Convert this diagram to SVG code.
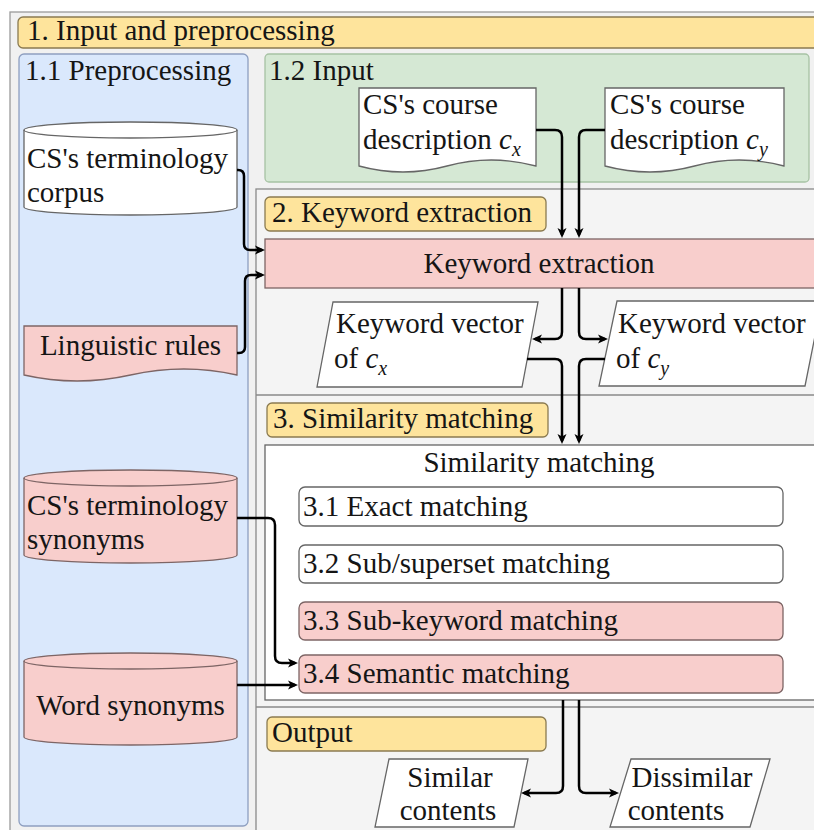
<svg xmlns="http://www.w3.org/2000/svg" width="814" height="830" viewBox="0 0 814 830" font-family="Liberation Serif" font-size="29">
<defs>
<marker id="ah" viewBox="0 0 10 10" refX="7" refY="5" markerWidth="11" markerHeight="10" markerUnits="userSpaceOnUse" orient="auto">
<path d="M0,0.5 L10,5 L0,9.5 L2.5,5 Z" fill="#000"/>
</marker>
</defs>
<rect x="0" y="0" width="814" height="830" fill="#ffffff"/>
<g id="frame">
<rect x="10" y="12" width="820" height="830" fill="#f1f1f1" stroke="#9a9a9a" stroke-width="1.3"/>
</g>
<g id="header">
<rect x="18" y="17" width="812" height="31" rx="5" fill="#fee49c" stroke="#8a7a50" stroke-width="1.3"/>
<text font-family="Liberation Serif" font-size="29" fill="#151515" x="27" y="40">1. Input and preprocessing</text>
</g>
<g id="preprocessing">
<rect x="19" y="54" width="229" height="772" rx="5" fill="#dae8fc" stroke="#8e9fc0" stroke-width="1.3"/>
<text font-family="Liberation Serif" font-size="29" fill="#151515" x="25" y="80">1.1 Preprocessing</text>
</g>
<g id="input">
<rect x="265" y="54" width="544" height="128" rx="4" fill="#d5e8d4" stroke="#a7c2a4" stroke-width="1.3"/>
<text font-family="Liberation Serif" font-size="29" fill="#151515" x="269" y="80">1.2 Input</text>
</g>
<g id="sections">
<rect x="256" y="189" width="574" height="660" fill="#f4f4f4" stroke="#8a8a8a" stroke-width="1.3"/>
<line x1="256" y1="395" x2="830" y2="395" stroke="#8a8a8a" stroke-width="1.3"/>
<line x1="256" y1="707" x2="830" y2="707" stroke="#8a8a8a" stroke-width="1.3"/>
</g>
<g id="doc-cx">
<path d="M359,88 H536 V166 Q491,154 447,166 Q403,178 359,166 Z" fill="#fff" stroke="#666" stroke-width="1.3"/>
<text font-family="Liberation Serif" font-size="29" fill="#151515" x="363" y="114">CS's course</text>
<text font-family="Liberation Serif" font-size="29" fill="#151515" x="363" y="149">description <tspan font-style="italic">c</tspan><tspan font-style="italic" font-size="20" dy="7">x</tspan></text>
</g>
<g id="doc-cy">
<path d="M605,88 H784 V166 Q739,154 694.5,166 Q650,178 605,166 Z" fill="#fff" stroke="#666" stroke-width="1.3"/>
<text font-family="Liberation Serif" font-size="29" fill="#151515" x="610" y="114">CS's course</text>
<text font-family="Liberation Serif" font-size="29" fill="#151515" x="610" y="149">description <tspan font-style="italic">c</tspan><tspan font-style="italic" font-size="20" dy="7">y</tspan></text>
</g>
<g id="corpus">
<path d="M24,130 A106.5,8 0 0 1 237,130 V207 A106.5,8 0 0 1 24,207 Z" fill="#fff" stroke="#666" stroke-width="1.3"/>
<path d="M24,130 A106.5,8 0 0 0 237,130" fill="none" stroke="#666" stroke-width="1.3"/>
<text font-family="Liberation Serif" font-size="29" fill="#151515" x="27" y="168">CS's terminology</text>
<text font-family="Liberation Serif" font-size="29" fill="#151515" x="27" y="202">corpus</text>
</g>
<g id="linguistic-rules">
<path d="M24,326 H237 V375 Q184,363 130.5,375 Q77,387 24,375 Z" fill="#f8cecc" stroke="#7d6565" stroke-width="1.3"/>
<text font-family="Liberation Serif" font-size="29" fill="#151515" text-anchor="middle" x="130.5" y="355">Linguistic rules</text>
</g>
<g id="term-synonyms">
<path d="M24,478 A106.5,8 0 0 1 237,478 V555 A106.5,8 0 0 1 24,555 Z" fill="#f8cecc" stroke="#7d6565" stroke-width="1.3"/>
<path d="M24,478 A106.5,8 0 0 0 237,478" fill="none" stroke="#7d6565" stroke-width="1.3"/>
<text font-family="Liberation Serif" font-size="29" fill="#151515" x="27" y="515">CS's terminology</text>
<text font-family="Liberation Serif" font-size="29" fill="#151515" x="27" y="549">synonyms</text>
</g>
<g id="word-synonyms">
<path d="M24,661 A106.5,8 0 0 1 237,661 V737 A106.5,8 0 0 1 24,737 Z" fill="#f8cecc" stroke="#7d6565" stroke-width="1.3"/>
<path d="M24,661 A106.5,8 0 0 0 237,661" fill="none" stroke="#7d6565" stroke-width="1.3"/>
<text font-family="Liberation Serif" font-size="29" fill="#151515" text-anchor="middle" x="130.5" y="715">Word synonyms</text>
</g>
<g id="label-2">
<rect x="265" y="197" width="281" height="34" rx="5" fill="#fee49c" stroke="#8a7a50" stroke-width="1.3"/>
<text font-family="Liberation Serif" font-size="29" fill="#151515" x="272" y="222">2. Keyword extraction</text>
</g>
<g id="keyword-extraction">
<rect x="265" y="239" width="565" height="49" fill="#f8cecc" stroke="#7d6565" stroke-width="1.3"/>
<text font-family="Liberation Serif" font-size="29" fill="#151515" text-anchor="middle" x="539" y="273">Keyword extraction</text>
</g>
<g id="kv-cx">
<path d="M333,302 H538 L522,387 H317 Z" fill="#fff" stroke="#666" stroke-width="1.3"/>
<text font-family="Liberation Serif" font-size="29" fill="#151515" x="336" y="333">Keyword vector</text>
<text font-family="Liberation Serif" font-size="29" fill="#151515" x="334" y="368">of <tspan font-style="italic">c</tspan><tspan font-style="italic" font-size="20" dy="7">x</tspan></text>
</g>
<g id="kv-cy">
<path d="M617,301 H822 L805,386 H599 Z" fill="#fff" stroke="#666" stroke-width="1.3"/>
<text font-family="Liberation Serif" font-size="29" fill="#151515" x="618" y="333">Keyword vector</text>
<text font-family="Liberation Serif" font-size="29" fill="#151515" x="616" y="368">of <tspan font-style="italic">c</tspan><tspan font-style="italic" font-size="20" dy="7">y</tspan></text>
</g>
<g id="label-3">
<rect x="267" y="403" width="281" height="34" rx="5" fill="#fee49c" stroke="#8a7a50" stroke-width="1.3"/>
<text font-family="Liberation Serif" font-size="29" fill="#151515" x="273" y="428">3. Similarity matching</text>
</g>
<g id="similarity-matching">
<rect x="265" y="445" width="565" height="255" fill="#ffffff" stroke="#666" stroke-width="1.3"/>
<text font-family="Liberation Serif" font-size="29" fill="#151515" text-anchor="middle" x="539" y="472">Similarity matching</text>
</g>
<g id="exact">
<rect x="299" y="487" width="484" height="39" rx="6" fill="#fff" stroke="#666" stroke-width="1.3"/>
<text font-family="Liberation Serif" font-size="29" fill="#151515" x="303" y="516">3.1 Exact matching</text>
</g>
<g id="subsuperset">
<rect x="299" y="545" width="484" height="38" rx="6" fill="#fff" stroke="#666" stroke-width="1.3"/>
<text font-family="Liberation Serif" font-size="29" fill="#151515" x="303" y="573">3.2 Sub/superset matching</text>
</g>
<g id="subkeyword">
<rect x="299" y="602" width="484" height="38" rx="6" fill="#f8cecc" stroke="#7d6565" stroke-width="1.3"/>
<text font-family="Liberation Serif" font-size="29" fill="#151515" x="303" y="630">3.3 Sub-keyword matching</text>
</g>
<g id="semantic">
<rect x="299" y="655" width="484" height="38" rx="6" fill="#f8cecc" stroke="#7d6565" stroke-width="1.3"/>
<text font-family="Liberation Serif" font-size="29" fill="#151515" x="303" y="683">3.4 Semantic matching</text>
</g>
<g id="label-output">
<rect x="267" y="717" width="279" height="34" rx="5" fill="#fee49c" stroke="#8a7a50" stroke-width="1.3"/>
<text font-family="Liberation Serif" font-size="29" fill="#151515" x="272" y="742">Output</text>
</g>
<g id="similar">
<path d="M389,759 H528 L514,827 H375 Z" fill="#fff" stroke="#666" stroke-width="1.3"/>
<text font-family="Liberation Serif" font-size="29" fill="#151515" text-anchor="middle" x="450" y="787">Similar</text>
<text font-family="Liberation Serif" font-size="29" fill="#151515" text-anchor="middle" x="448" y="820">contents</text>
</g>
<g id="dissimilar">
<path d="M631,759 H770 L750,827 H610 Z" fill="#fff" stroke="#666" stroke-width="1.3"/>
<text font-family="Liberation Serif" font-size="29" fill="#151515" text-anchor="middle" x="692" y="787">Dissimilar</text>
<text font-family="Liberation Serif" font-size="29" fill="#151515" text-anchor="middle" x="676" y="820">contents</text>
</g>
<g id="connectors" fill="none" stroke="#000" stroke-width="2.5" marker-end="url(#ah)">
<path d="M536,130 H555 Q562,130 562,137 V235"/>
<path d="M605,130 H586 Q579,130 579,137 V235"/>
<path d="M237,170 H238 Q244,170 244,176 V244 Q244,250 250,250 H262"/>
<path d="M237,353 H239 Q245,353 245,347 V281 Q245,275 251,275 H262"/>
<path d="M562,288 V332 Q562,339 555,339 H535"/>
<path d="M579,288 V332 Q579,339 586,339 H605"/>
<path d="M527,359 H555 Q562,359 562,366 V441"/>
<path d="M605,359 H586 Q579,359 579,366 V441"/>
<path d="M237,518 H268 Q275,518 275,525 V656 Q275,663 282,663 H295"/>
<path d="M237,685 H295"/>
<path d="M563,700 V786 Q563,793 556,793 H524"/>
<path d="M579,700 V786 Q579,793 586,793 H616"/>
</g>
</svg>
